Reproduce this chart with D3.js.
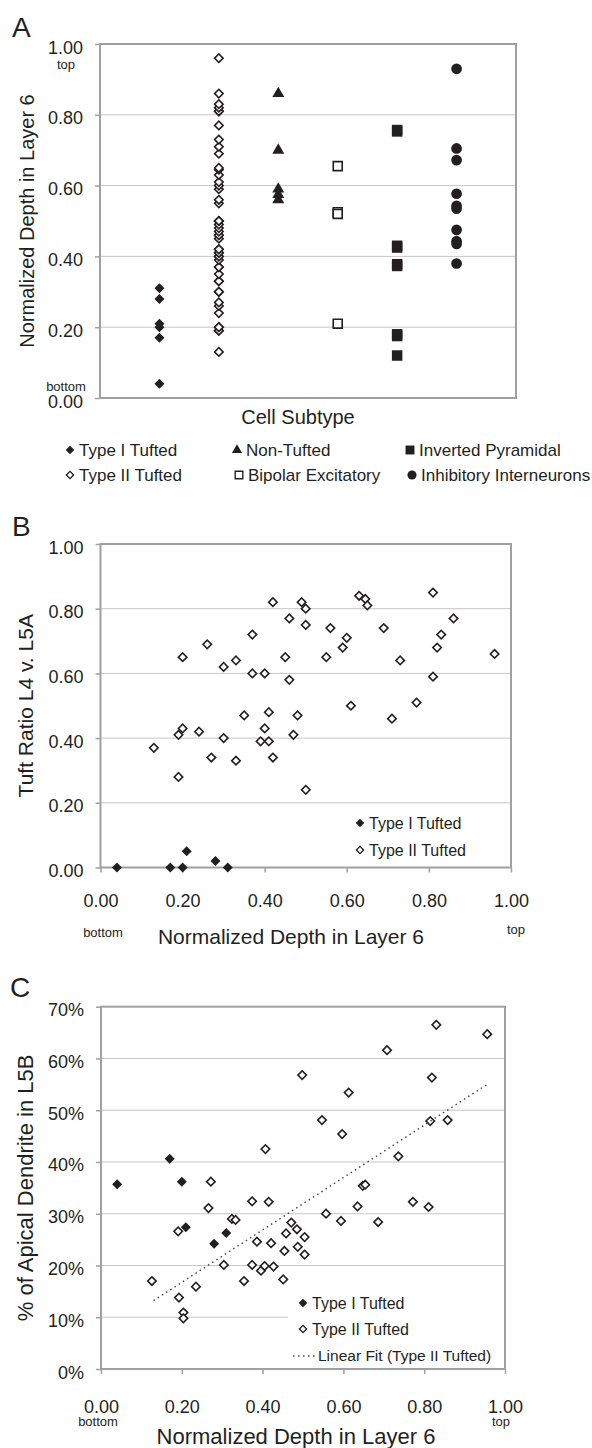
<!DOCTYPE html>
<html><head><meta charset="utf-8">
<script src="https://cdn.jsdelivr.net/npm/d3@7"></script>
<style>
body{margin:0;background:#fff}
svg{display:block}
text{font-family:"Liberation Sans",Arial,sans-serif;fill:#231f20}
</style>
</head><body>
<svg id="fig" width="592" height="1448"></svg>
<script>
// ---------- DATA ----------
const categories = ["Type I Tufted","Type II Tufted","Non-Tufted","Bipolar Excitatory","Inverted Pyramidal","Inhibitory Interneurons"];
const depthTicks = [0,0.2,0.4,0.6,0.8,1.0];
const pctTicks = [0,10,20,30,40,50,60,70];

const typeIDepth      = [0.04,0.17,0.20,0.21,0.28,0.31];
const typeITuftRatio  = [0.00,0.00,0.00,0.05,0.02,0.00];
const typeIL5B        = [35.7,40.6,36.2,27.4,24.2,26.3];

const typeIIDepth = [0.13,0.19,0.19,0.20,0.20,0.24,0.26,0.27,0.30,0.30,0.33,0.33,0.35,0.37,0.37,0.39,0.40,0.40,0.41,0.41,0.42,0.42,0.45,0.46,0.46,0.47,0.48,0.49,0.50,0.50,0.50,0.55,0.56,0.59,0.60,0.61,0.63,0.645,0.65,0.69,0.71,0.73,0.77,0.81,0.81,0.82,0.83,0.86,0.96];
const typeIITuftRatio = [0.37,0.41,0.28,0.43,0.65,0.42,0.69,0.34,0.62,0.40,0.64,0.33,0.47,0.72,0.60,0.39,0.60,0.43,0.48,0.39,0.34,0.82,0.65,0.77,0.58,0.41,0.47,0.82,0.24,0.80,0.75,0.65,0.74,0.68,0.71,0.50,0.84,0.83,0.81,0.74,0.46,0.64,0.51,0.85,0.59,0.68,0.72,0.77,0.66];

const typeIIDepthC = [0.126,0.191,0.193,0.204,0.204,0.235,0.266,0.272,0.304,0.324,0.333,0.354,0.374,0.374,0.386,0.396,0.405,0.407,0.415,0.421,0.427,0.451,0.454,0.458,0.471,0.485,0.487,0.498,0.504,0.504,0.547,0.557,0.594,0.597,0.613,0.635,0.648,0.654,0.686,0.708,0.736,0.772,0.811,0.815,0.819,0.830,0.858,0.956];
const typeIIL5B    = [17.0,26.6,13.8,10.9,9.8,15.9,31.1,36.2,20.1,29.0,28.8,17.0,32.4,20.1,24.6,19.0,19.9,42.5,32.3,24.3,19.8,17.3,22.8,26.2,28.3,27.0,23.6,56.8,25.5,22.1,48.1,30.0,28.6,45.4,53.4,31.4,35.4,35.6,28.4,61.6,41.1,32.3,31.3,47.9,56.3,66.5,48.1,64.7];

const nonTuftedDepth  = [0.86,0.70,0.59,0.575,0.56];
const bipolarDepth    = [0.655,0.525,0.52,0.21];
const invertedDepth   = [0.757,0.753,0.43,0.425,0.378,0.373,0.18,0.175,0.12];
const inhibitoryDepth = [0.93,0.705,0.672,0.577,0.543,0.535,0.475,0.443,0.435,0.38];

const fitX = [0.13,0.96];
const fitY = [13.2,55.2];

// ---------- HELPERS ----------
const svg = d3.select("#fig");
const INK = "#231f20", FRAME = "#a0a0a3", GRID = "#c6c6c6";
const FONT_TICK = 18, FONT_TITLE = 21;

const sym = {
  diamondFilled: d3.symbol().type(d3.symbolSquare).size(50)(),
  diamondOpen:   d3.symbol().type(d3.symbolSquare).size(36)(),
  triangle:      d3.symbol().type(d3.symbolTriangle).size(62)(),
  squareFilled:  d3.symbol().type(d3.symbolSquare).size(110)(),
  squareOpen:    d3.symbol().type(d3.symbolSquare).size(80)(),
  circle:        d3.symbol().type(d3.symbolCircle).size(90)()
};
const styleOf = {
  diamondFilled: {path: sym.diamondFilled, rot: 45, fill: INK, stroke: "none"},
  diamondOpen:   {path: sym.diamondOpen,   rot: 45, fill: "#fff", stroke: INK},
  triangle:      {path: sym.triangle,      rot: 0,  fill: INK, stroke: "none"},
  squareFilled:  {path: sym.squareFilled,  rot: 0,  fill: INK, stroke: "none"},
  squareOpen:    {path: sym.squareOpen,    rot: 0,  fill: "#fff", stroke: INK},
  circle:        {path: sym.circle,        rot: 0,  fill: INK, stroke: "none"}
};
function marks(g, pts, kind) {
  const s = styleOf[kind];
  g.selectAll(null).data(pts).enter().append("path")
    .attr("d", s.path)
    .attr("transform", d => `translate(${d[0]},${d[1]}) rotate(${s.rot})`)
    .attr("fill", s.fill).attr("stroke", s.stroke).attr("stroke-width", 1.6);
}
function legendItem(g, x, y, kind, label, fs) {
  const s = styleOf[kind];
  g.append("path").attr("d", s.path)
    .attr("transform", `translate(${x},${y}) rotate(${s.rot}) scale(0.85)`)
    .attr("fill", s.fill).attr("stroke", s.stroke).attr("stroke-width", 1.6);
  g.append("text").attr("x", x + 9).attr("y", y).attr("dy", "0.35em")
    .attr("font-size", fs).text(label);
}
function frame(g, x0, x1, y0, y1, yScale, yTicks, fmt) {
  g.append("g").selectAll("line").data(yTicks.slice(1, -1)).enter().append("line")
    .attr("x1", x0).attr("x2", x1)
    .attr("y1", d => yScale(d)).attr("y2", d => yScale(d))
    .attr("stroke", GRID).attr("stroke-width", 1);
  const ax = g.append("g").attr("transform", `translate(${x0},0)`)
    .call(d3.axisLeft(yScale).tickValues(yTicks).tickSize(5).tickPadding(12).tickFormat(fmt));
  ax.select(".domain").remove();
  ax.selectAll(".tick line").attr("stroke", FRAME).attr("stroke-width", 1.5);
  ax.selectAll(".tick text").attr("font-size", FONT_TICK).attr("font-family", null)
    .attr("fill", INK).attr("dy", "0.5em");
  g.append("rect").attr("x", x0).attr("y", y0).attr("width", x1 - x0).attr("height", y1 - y0)
    .attr("fill", "none").attr("stroke", FRAME).attr("stroke-width", 2);
}
function panelLetter(x, y, t) {
  svg.append("text").attr("x", x).attr("y", y).attr("font-size", 28).text(t);
}
function yTitle(x, yc, t, fs) {
  svg.append("text").attr("transform", `translate(${x},${yc}) rotate(-90)`)
    .attr("text-anchor", "middle").attr("font-size", fs).text(t);
}

// ---------- PANEL A ----------
{
  const L = 100, R = 516, T = 44, B = 398;
  const y = d3.scaleLinear().domain([0, 1]).range([B, T]);
  const x = d3.scalePoint().domain(categories).range([L, R]).padding(1);
  const g = svg.append("g");
  frame(g, L, R, T, B, y, depthTicks, d3.format(".2f"));
  const col = (cat, arr) => arr.map(v => [x(cat), y(v)]);
  marks(g, col(categories[0], typeIDepth), "diamondFilled");
  marks(g, col(categories[1], typeIIDepth), "diamondOpen");
  marks(g, col(categories[2], nonTuftedDepth), "triangle");
  marks(g, col(categories[3], bipolarDepth), "squareOpen");
  marks(g, col(categories[4], invertedDepth), "squareFilled");
  marks(g, col(categories[5], inhibitoryDepth), "circle");
  svg.append("text").attr("x", 66).attr("y", 69).attr("text-anchor", "middle").attr("font-size", 13).text("top");
  svg.append("text").attr("x", 66).attr("y", 391).attr("text-anchor", "middle").attr("font-size", 13).text("bottom");
  panelLetter(12, 37, "A");
  yTitle(34, (T + B) / 2, "Normalized Depth in Layer 6", 20);
  svg.append("text").attr("x", 298).attr("y", 424).attr("text-anchor", "middle").attr("font-size", 20).text("Cell Subtype");
  const lg = svg.append("g");
  legendItem(lg, 70, 450, "diamondFilled", categories[0], 17);
  legendItem(lg, 70, 475, "diamondOpen", categories[1], 17);
  legendItem(lg, 237, 450, "triangle", categories[2], 17);
  legendItem(lg, 239, 475, "squareOpen", categories[3], 17);
  legendItem(lg, 410, 450, "squareFilled", categories[4], 17);
  legendItem(lg, 412, 475, "circle", categories[5], 17);
}

// ---------- PANEL B ----------
{
  const L = 100.5, R = 511, T = 544, B = 867.5;
  const y = d3.scaleLinear().domain([0, 1]).range([B, T]);
  const x = d3.scaleLinear().domain([0, 1]).range([L, R]);
  const g = svg.append("g");
  frame(g, L, R, T, B, y, depthTicks, d3.format(".2f"));
  const xa = g.append("g").attr("transform", `translate(0,${B})`)
    .call(d3.axisBottom(x).tickValues(depthTicks).tickSize(5).tickPadding(22).tickFormat(d3.format(".2f")));
  xa.select(".domain").remove();
  xa.selectAll(".tick line").attr("stroke", FRAME).attr("stroke-width", 1.5);
  xa.selectAll(".tick text").attr("font-size", FONT_TICK).attr("font-family", null).attr("fill", INK);
  marks(g, typeIIDepth.map((d, i) => [x(d), y(typeIITuftRatio[i])]), "diamondOpen");
  marks(g, typeIDepth.map((d, i) => [x(d), y(typeITuftRatio[i])]), "diamondFilled");
  const lg = svg.append("g");
  legendItem(lg, 360, 823, "diamondFilled", "Type I Tufted", 16);
  legendItem(lg, 360, 850, "diamondOpen", "Type II Tufted", 16);
  svg.append("text").attr("x", 103).attr("y", 937).attr("text-anchor", "middle").attr("font-size", 13).text("bottom");
  svg.append("text").attr("x", 516).attr("y", 934).attr("text-anchor", "middle").attr("font-size", 13).text("top");
  svg.append("text").attr("x", 291).attr("y", 944).attr("text-anchor", "middle").attr("font-size", FONT_TITLE).text("Normalized Depth in Layer 6");
  panelLetter(12, 536, "B");
  yTitle(33, (T + B) / 2, "Tuft Ratio L4 v. L5A", FONT_TITLE);
}

// ---------- PANEL C ----------
{
  const L = 101, R = 505, T = 1006.7, B = 1369;
  const y = d3.scaleLinear().domain([0, 70]).range([B, T]);
  const x = d3.scaleLinear().domain([0, 1]).range([L, R]);
  const g = svg.append("g");
  frame(g, L, R, T, B, y, pctTicks, d => d + "%");
  const xa = g.append("g").attr("transform", `translate(0,${B})`)
    .call(d3.axisBottom(x).tickValues(depthTicks).tickSize(5).tickPadding(26).tickFormat(d3.format(".2f")));
  xa.select(".domain").remove();
  xa.selectAll(".tick line").attr("stroke", FRAME).attr("stroke-width", 1.5);
  xa.selectAll(".tick text").attr("font-size", FONT_TICK).attr("font-family", null).attr("fill", INK);
  g.append("rect").attr("x", 288).attr("y", 1290).attr("width", R - 289).attr("height", B - 1291).attr("fill", "#fff");
  marks(g, typeIIDepthC.map((d, i) => [x(d), y(typeIIL5B[i])]), "diamondOpen");
  marks(g, typeIDepth.map((d, i) => [x(d), y(typeIL5B[i])]), "diamondFilled");
  g.append("path").datum(fitX.map((d, i) => [d, fitY[i]]))
    .attr("d", d3.line().x(d => x(d[0])).y(d => y(d[1])))
    .attr("fill", "none").attr("stroke", "#444").attr("stroke-width", 1.4).attr("stroke-dasharray", "1.5,3.5");
  const lg = svg.append("g");
  legendItem(lg, 303, 1303, "diamondFilled", "Type I Tufted", 16);
  legendItem(lg, 303, 1329, "diamondOpen", "Type II Tufted", 16);
  lg.append("line").attr("x1", 293).attr("x2", 315).attr("y1", 1356).attr("y2", 1356)
    .attr("stroke", "#444").attr("stroke-width", 1.4).attr("stroke-dasharray", "1.5,3.5");
  lg.append("text").attr("x", 318).attr("y", 1356).attr("dy", "0.35em").attr("font-size", 15.5).text("Linear Fit (Type II Tufted)");
  svg.append("text").attr("x", 98).attr("y", 1426).attr("text-anchor", "middle").attr("font-size", 13).text("bottom");
  svg.append("text").attr("x", 501).attr("y", 1426).attr("text-anchor", "middle").attr("font-size", 13).text("top");
  svg.append("text").attr("x", 296).attr("y", 1444).attr("text-anchor", "middle").attr("font-size", 22).text("Normalized Depth in Layer 6");
  panelLetter(10, 997, "C");
  yTitle(33, (T + B) / 2, "% of Apical Dendrite in L5B", 22);
}
</script>
</body></html>
